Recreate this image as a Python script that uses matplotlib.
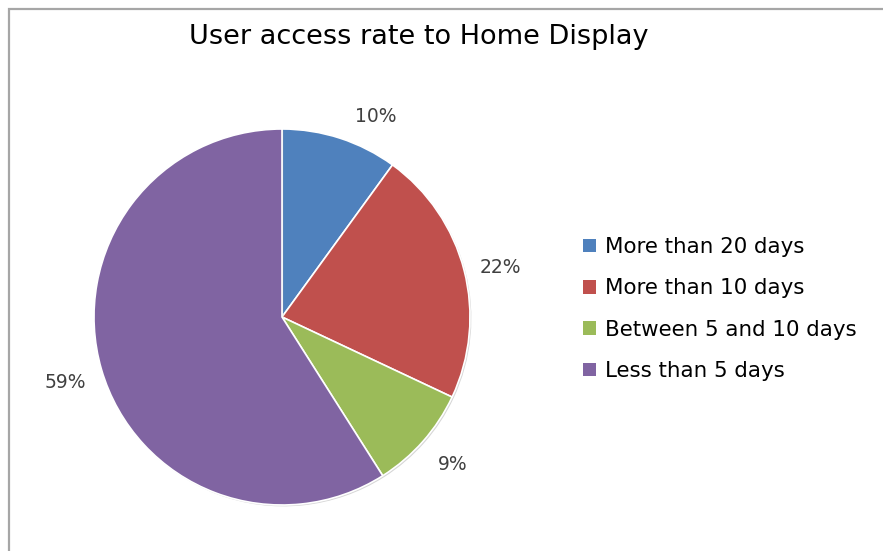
import numpy as np
import matplotlib
matplotlib.use("Agg")
import matplotlib.pyplot as plt
from matplotlib.patches import Patch, Rectangle
from matplotlib import patheffects

# share of users by how often they open the home display
categories = ["More than 20 days", "More than 10 days", "Between 5 and 10 days", "Less than 5 days"]
shares = [10, 22, 9, 59]
colors = ["#4F81BD", "#C0504D", "#9BBB59", "#8064A2"]

plt.rcParams["font.family"] = ["DejaVu Sans"]

fig = plt.figure(figsize=(8.83, 5.51), dpi=100)
W, H = 883, 551

# outer chart border (only top/left visible)
fig.patches.append(Rectangle((8.5 / W, -0.1), 1.2, 1.1 - 8.5 / H, transform=fig.transFigure,
                             fill=False, edgecolor="#a6a6a6", linewidth=1.6))

ax = fig.add_axes([94 / W, (H - 505) / H, 376 / W, 376 / H])
wedges, _ = ax.pie(shares, colors=colors, startangle=90, counterclock=False,
                   wedgeprops=dict(edgecolor="white", linewidth=1.2))
for w in wedges:
    w.set_path_effects([patheffects.SimplePatchShadow(offset=(1, -1), shadow_rgbFace="#999999", alpha=0.4),
                        patheffects.Normal()])
ax.set_xlim(-1, 1)
ax.set_ylim(-1, 1)
ax.set_aspect("equal")
ax.axis("off")

# percentage labels just outside each slice
total = sum(shares)
for w, v in zip(wedges, shares):
    ang = np.deg2rad((w.theta1 + w.theta2) / 2)
    c, s = np.cos(ang), np.sin(ang)
    side = 1 if c > 0 else -1
    ax.text(c + side * 0.08, 1.15 * s - 0.025, f"{round(100 * v / total)}%",
            ha="left" if side > 0 else "right", va="center",
            fontsize=13.5, color="#404040", clip_on=False)

fig.text(419 / W, 1 - 37 / H, "User access rate to Home Display",
         ha="center", va="center", fontsize=19.5, color="black")

handles = [Patch(facecolor=c, edgecolor="none") for c in colors]
fig.legend(handles, categories, loc="center left", bbox_to_anchor=(583 / W, 1 - 309 / H),
           frameon=False, fontsize=15.4, handlelength=0.6, handleheight=0.6,
           handletextpad=0.42, labelspacing=1.0, borderpad=0, borderaxespad=0)

fig.savefig("out.png", dpi=100)
